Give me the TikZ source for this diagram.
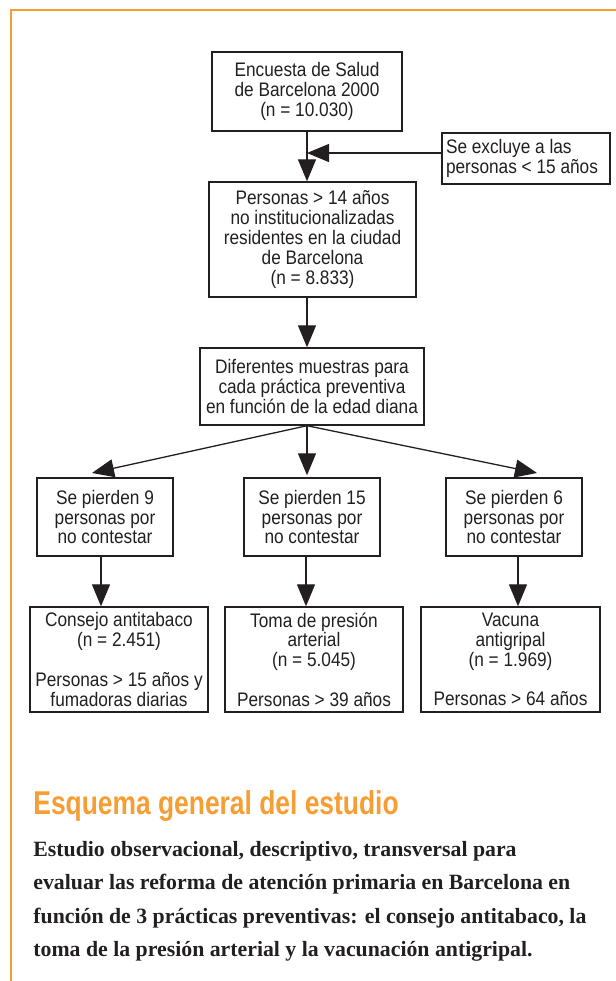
\documentclass[tikz,border=0pt]{standalone}
\usepackage{fontspec}
\usetikzlibrary{arrows.meta}
\newfontfamily\cajafont[FakeStretch=0.88]{Liberation Sans}
\newfontfamily\titulofont[FakeStretch=0.8]{Liberation Sans}
\newfontfamily\textofont{Liberation Serif}
\definecolor{naranja}{RGB}{246,158,52}
\definecolor{tinta}{RGB}{35,31,32}
\tikzset{
  caja/.style={draw=tinta,line width=0.7pt,inner sep=0pt,align=center,text=tinta,
    font=\cajafont\fontsize{9.8}{9.9}\selectfont},
  flecha/.style={draw=tinta,line width=0.65pt,-{Triangle[length=11pt,width=9pt]}},
}

\begin{document}
\begin{tikzpicture}[x=0.5pt,y=-0.5pt]
\useasboundingbox (0,0) rectangle (616,981);
\draw[naranja,line width=1.3pt] (616,10) -- (11,10) -- (11,981);

\node[caja,minimum width=95pt,minimum height=39.5pt] (encuesta) at (307,91.5) {Encuesta de Salud\\de Barcelona 2000\\(n = 10.030)};
\node[caja,align=flush left,text width=80pt,inner xsep=2pt,minimum height=25.5pt] (excluye) at (526,158.5) {Se excluye a las\\personas < 15 años};
\node[caja,minimum width=103.5pt,minimum height=57.5pt] (personas) at (312.5,239.5) {Personas > 14 años\\no institucionalizadas\\residentes en la ciudad\\de Barcelona\\(n = 8.833)};
\node[caja,minimum width=112pt,minimum height=38.5pt] (diferentes) at (312,386.5) {Diferentes muestras para\\cada práctica preventiva\\en función de la edad diana};

\node[caja,minimum width=68pt,minimum height=39pt] (pierdeA) at (105,517) {Se pierden 9\\personas por\\no contestar};
\node[caja,minimum width=68pt,minimum height=39pt] (pierdeB) at (312,517) {Se pierden 15\\personas por\\no contestar};
\node[caja,minimum width=68pt,minimum height=39pt] (pierdeC) at (514,517) {Se pierden 6\\personas por\\no contestar};

\node[caja,minimum width=89pt,minimum height=52.5pt] (consejo) at (119,659.5) {Consejo antitabaco\\(n = 2.451)\\[9.9pt]Personas > 15 años y\\fumadoras diarias};
\node[caja,minimum width=89pt,minimum height=52.5pt] (presion) at (314,659.5) {Toma de presión\\arterial\\(n = 5.045)\\[9.9pt]Personas > 39 años};
\node[caja,minimum width=89.5pt,minimum height=52.5pt] (vacuna) at (510.5,659.5) {Vacuna\\antigripal\\(n = 1.969)\\[9.9pt]Personas > 64 años};

\coordinate (puntaA) at (92,473);
\coordinate (puntaC) at (537,473);

\draw[flecha] (encuesta.south) -- (encuesta.south |- personas.north);
\draw[flecha] ([yshift=2.75pt]excluye.west) -- ([yshift=2.75pt]excluye.west -| encuesta.south);
\draw[flecha] (encuesta.south |- personas.south) -- (encuesta.south |- diferentes.north);
\draw[flecha] (encuesta.south |- diferentes.south) -- (puntaA);
\draw[flecha] (encuesta.south |- diferentes.south) -- ([yshift=1pt]encuesta.south |- pierdeB.north);
\draw[flecha] (encuesta.south |- diferentes.south) -- (puntaC);
\draw[flecha] ([xshift=-2pt]pierdeA.south) -- ([xshift=-2pt]pierdeA.south |- consejo.north);
\draw[flecha] ([xshift=-3pt]pierdeB.south) -- ([xshift=-3pt]pierdeB.south |- presion.north);
\draw[flecha] ([xshift=2pt]pierdeC.south) -- ([xshift=2pt]pierdeC.south |- vacuna.north);

\node[anchor=base west,inner sep=0pt,text=naranja,font=\titulofont\bfseries\fontsize{16.5}{18}\selectfont] (titulo) at (33,814) {Esquema general del estudio};
\node[anchor=base west,inner sep=0pt,text=tinta,align=flush left,text width=295pt,font=\textofont\bfseries\fontsize{10.9}{16.75}\selectfont] (resumen) at (33,856) {Estudio observacional, descriptivo, transversal para\\evaluar las reforma de atención primaria en Barcelona en\\función de 3 prácticas preventivas: el consejo antitabaco, la\\toma de la presión arterial y la vacunación antigripal.};
\end{tikzpicture}
\end{document}
